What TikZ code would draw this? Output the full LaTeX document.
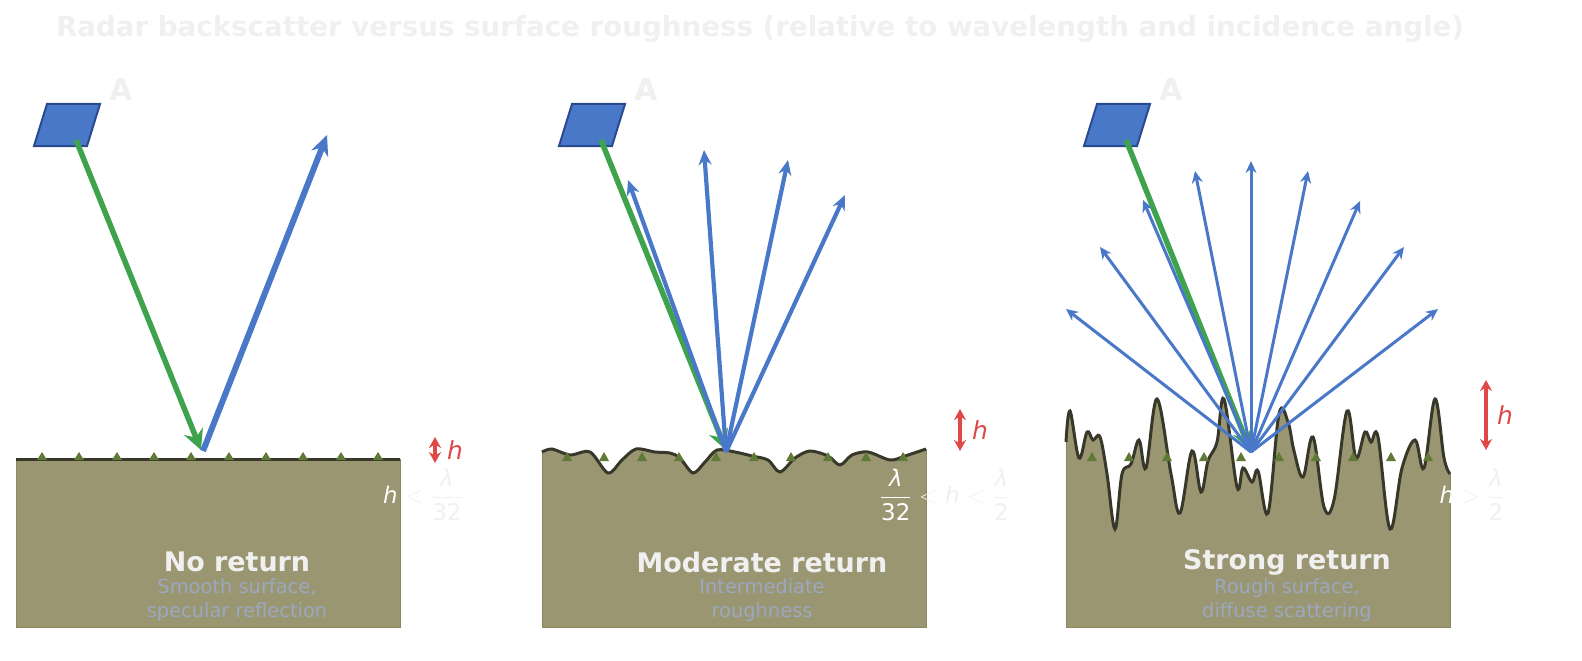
\documentclass[tikz,border=0pt]{standalone}
\usepackage{amsmath}
\usepackage{fontspec}
\setmainfont{DejaVu Sans}
\usetikzlibrary{arrows.meta}
\definecolor{ground}{HTML}{9B9672}
\definecolor{groundedge}{HTML}{8C875F}
\definecolor{surf}{HTML}{38382A}
\definecolor{grass}{HTML}{5E7A36}
\definecolor{gr}{HTML}{3FA34D}
\definecolor{bl}{HTML}{4A78C8}
\definecolor{antb}{HTML}{2A4A90}
\definecolor{rd}{HTML}{E04848}
\definecolor{faint}{HTML}{F0F0F0}
\definecolor{sub}{HTML}{9AA8C0}
\newcommand{\fr}[2]{\ensuremath{\displaystyle\frac{\text{\itshape #1}}{\text{#2}}}}
\newcommand{\hh}{\text{\itshape h}}
\begin{document}
\begin{tikzpicture}[x=1bp,y=-1bp,
  inc/.style={gr,line width=5.5bp,-{Stealth[length=20bp,width=20bp]}},
  ref/.style={bl,line width=6bp,-{Stealth[length=20bp,width=18bp]}},
  refm/.style={bl,line width=4.2bp,-{Stealth[length=15bp,width=13bp]}},
  refs/.style={bl,line width=3bp,-{Stealth[length=12bp,width=11bp]}},
  hmark/.style={rd,line width=3.5bp,{Stealth[length=11bp,width=12bp]}-{Stealth[length=11bp,width=12bp]}},
  ant/.style={fill=bl,draw=antb,line width=2bp},
  gnd/.style={fill=ground,draw=groundedge,line width=1bp},
  srf/.style={surf,line width=3bp},
  tuft/.style={fill=grass,draw=none},
  lbl/.style={font=\bfseries\fontsize{27}{32}\selectfont,text=faint},
  subl/.style={font=\fontsize{19.5}{24}\selectfont,text=sub,align=center},
  frm/.style={font=\fontsize{23}{27}\selectfont,text=faint},
  alab/.style={font=\bfseries\fontsize{30}{32}\selectfont,text=faint},
  hl/.style={font=\itshape\fontsize{25}{28}\selectfont,text=rd}]
\useasboundingbox (0,0) rectangle (1582,661);
\node[font=\bfseries\fontsize{27.8}{32}\selectfont,text=faint] (title) at (760,29) {Radar backscatter versus surface roughness (relative to wavelength and incidence angle)};

% Antennas
\foreach \o/\n in {0/a,525/b,1050/c}{
  \begin{scope}[xshift=\o bp]
  \draw[ant] (34,146) -- (47,104) -- (100,104) -- (87,146) -- cycle;
  \node[alab] (A\n) at (121,90) {A};
  \end{scope}}

% Panel 1
\draw[gnd] (16,459) rectangle (400,627);
\draw[srf] (16,459) -- (400,459);
\foreach \x in {42,79,117,154,191,229,266,303,341,378}
  \fill[tuft] (\x-5,460) -- (\x,452) -- (\x+5,460) -- cycle;
\coordinate (s1) at (76,140);
\coordinate (p1) at (201,450);
\coordinate (q1) at (203,451);
\coordinate (e1) at (327,135);
\draw[inc] (s1) -- (p1);
\draw[ref] (q1) -- (e1);
\coordinate (h1a) at (435,437); \coordinate (h1b) at (435,463);
\draw[hmark] (h1a) -- (h1b);
\node[hl] (h1) at (455,450) {h};
\node[frm] (f1) at (423,495) {$\color{white}\hh$ $<$ \fr{λ}{32}};
\node[lbl] (t1) at (237,562) {No return};
\node[subl] (u1) at (237,600) {Smooth surface,\\specular reflection};

% Panel 2
\def\wave{(542,452)(552,449)(570,455)(590,452)(608,473)(622,460)(636,449)(655,452)(670,453)(680,458)(693,473)(705,462)(717,450)(735,452)(752,456)(768,460)(780,472)(795,458)(810,451)(828,456)(840,465)(852,455)(868,452)(890,460)(905,456)(926,449)}
\fill[ground] (542,627) -- plot[smooth] coordinates {\wave} -- (926,627) -- cycle;
\draw[groundedge,line width=1bp] (542,452) -- (542,627) -- (926,627) -- (926,449);
\draw[srf] plot[smooth] coordinates {\wave};
\foreach \x in {567,604,642,679,716,754,791,828,866,903}
  \fill[tuft] (\x-5,461) -- (\x,452) -- (\x+5,461) -- cycle;
\coordinate (s2) at (601,140);
\coordinate (p2) at (726,450);
\coordinate (q2) at (726,452);
\draw[inc] (s2) -- (p2);
\foreach \ex/\ey [count=\i] in {628/180,704/150,788/160,845/195}{
  \coordinate (e2\i) at (\ex,\ey);
  \draw[refm] (q2) -- (e2\i);}
\coordinate (h2a) at (960,409); \coordinate (h2b) at (960,451);
\draw[hmark] (h2a) -- (h2b);
\node[hl] (h2) at (980,430) {h};
\node[frm] (f2) at (945,495) {$\color{white}\fr{λ}{32}$ $<$ \hh{} $<$ \fr{λ}{2}};
\node[lbl] (t2) at (762,562) {Moderate return};
\node[subl] (u2) at (762,600) {Intermediate\\roughness};

% Panel 3
\def\rough{(1066,442)(1070,411)(1079,458)(1087,432)(1093,440)(1100,437)(1107,474)(1115,529)(1122,474)(1131,464)(1139,440)(1146,468)(1157,399)(1171,474)(1180,513)(1192,451)(1201,492)(1208,461)(1217,442)(1224,399)(1237,487)(1243,468)(1252,482)(1258,471)(1268,513)(1279,414)(1288,422)(1294,451)(1303,477)(1313,437)(1324,507)(1334,500)(1347,411)(1356,458)(1365,432)(1371,442)(1378,437)(1390,529)(1402,468)(1415,440)(1424,468)(1435,399)(1444,458)(1450,474)}
\fill[ground] (1066,627) -- plot[smooth,tension=0.6] coordinates {\rough} -- (1450,627) -- cycle;
\draw[groundedge,line width=1bp] (1066,442) -- (1066,627) -- (1450,627) -- (1450,474);
\draw[srf] plot[smooth,tension=0.6] coordinates {\rough};
\foreach \x in {1092,1129,1167,1204,1241,1279,1316,1353,1391,1428}
  \fill[tuft] (\x-5,461) -- (\x,452) -- (\x+5,461) -- cycle;
\coordinate (s3) at (1126,140);
\coordinate (p3) at (1250,450);
\coordinate (q3) at (1251,452);
\draw[inc] (s3) -- (p3);
\foreach \ex/\ey [count=\i] in {1066/309,1100/247,1143/200,1195/171,1251/161,1308/171,1360/201,1404/247,1438/309}{
  \coordinate (e3\i) at (\ex,\ey);
  \draw[refs] (q3) -- (e3\i);}
\coordinate (h3a) at (1486,380); \coordinate (h3b) at (1486,450);
\draw[hmark] (h3a) -- (h3b);
\node[hl] (h3) at (1505,415) {h};
\node[frm] (f3) at (1472,495) {$\color{white}\hh$ $>$ \fr{λ}{2}};
\node[lbl] (t3) at (1287,562) {Strong return};
\node[subl] (u3) at (1287,600) {Rough surface,\\diffuse scattering};
\end{tikzpicture}
\end{document}
